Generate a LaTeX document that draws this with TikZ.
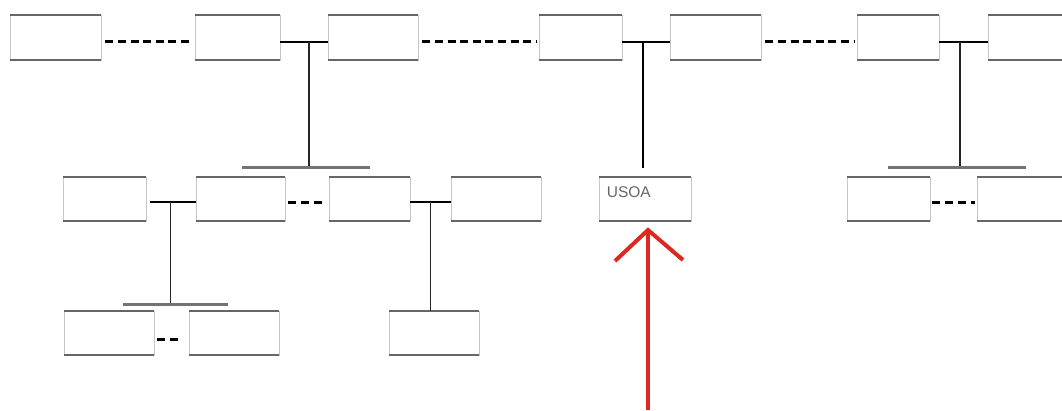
\documentclass[tikz,border=0pt]{standalone}
\usepackage{fontspec}
\setmainfont{Liberation Sans}
\usetikzlibrary{calc}
\begin{document}
\begin{tikzpicture}[x=1pt,y=-1pt,
  box/.style={draw=gray!45, line width=0.7pt, fill=white, inner sep=0pt, minimum height=45pt},
  edgeline/.style={draw=black!60, line width=2.2pt},
  link/.style={draw=black, line width=2pt},
  dotlink/.style={draw=black, line width=3pt, dash pattern=on 8pt off 4.6pt},
  dashlink/.style={draw=black, line width=3pt, dash pattern=on 8pt off 5pt},
  drop/.style={draw=black!85, line width=1.3pt},
  bar/.style={draw=black!55, line width=3pt},
  redline/.style={draw={rgb,255:red,220;green,40;blue,30}, line width=4pt, line join=miter}]
\useasboundingbox (0,0) rectangle (1062,410);
\clip (0,0) rectangle (1062,410);
% top row
\node[box, minimum width=91pt] (b1) at (55.5,37.5) {};
\node[box, minimum width=85pt] (b2) at (237.5,37.5) {};
\node[box, minimum width=90pt] (b3) at (373,37.5) {};
\node[box, minimum width=83pt] (b4) at (580.5,37.5) {};
\node[box, minimum width=91pt] (b5) at (715.5,37.5) {};
\node[box, minimum width=82pt] (b6) at (898,37.5) {};
\node[box, minimum width=90pt] (b7) at (1033,37.5) {};
% second row
\node[box, minimum width=83pt, minimum height=44pt] (c1) at (104.5,199) {};
\node[box, minimum width=89pt, minimum height=44pt] (c2) at (240.5,199) {};
\node[box, minimum width=81pt, minimum height=44pt] (c3) at (369.5,199) {};
\node[box, minimum width=90pt, minimum height=44pt] (c4) at (496,199) {};
\node[box, minimum width=92pt, minimum height=44pt,
  label={[anchor=north west, inner sep=0pt, xshift=8pt, yshift=-10pt, text=black!60,
          font=\fontsize{15.5}{15.5}\selectfont]north west:USOA}] (usoa) at (645,199) {};
\node[box, minimum width=83pt, minimum height=44pt] (c5) at (888.5,199) {};
\node[box, minimum width=90pt, minimum height=44pt] (c6) at (1022,199) {};
% third row
\node[box, minimum width=90pt, minimum height=44pt] (d1) at (109,333) {};
\node[box, minimum width=90pt, minimum height=44pt] (d2) at (234,333) {};
\node[box, minimum width=90pt, minimum height=44pt] (d3) at (434,333) {};
% thick top and bottom edges
\foreach \n in {b1,b2,b3,b4,b5,b6,b7,c1,c2,c3,c4,usoa,c5,c6,d1,d2,d3}{
  \draw[edgeline] (\n.north west) -- (\n.north east);
  \draw[edgeline] (\n.south west) -- (\n.south east);
}
% junction coordinates
\coordinate (j1) at (309,42);
\coordinate (j2) at (643,42);
\coordinate (j3) at (960,42);
\coordinate (j4) at (170,202);
\coordinate (j5) at (430,202);
\coordinate (bar1l) at (242,167);
\coordinate (bar1r) at (370,167);
\coordinate (bar1m) at (309,167);
\coordinate (bar2l) at (888,167);
\coordinate (bar2r) at (1026,167);
\coordinate (bar2m) at (960,167);
\coordinate (bar3l) at (123,304);
\coordinate (bar3r) at (228,304);
\coordinate (bar3m) at (170,304);
\coordinate (stop) at (643,168);
% top row connectors
\draw[dotlink, shorten <=4pt, shorten >=2pt] ([yshift=-4pt]b1.east) -- ([yshift=-4pt]b2.west);
\draw[link] ([yshift=-4.5pt]b2.east) -- ([yshift=-4.5pt]b3.west);
\draw[dotlink, shorten <=4pt, shorten >=2pt] ([yshift=-4pt]b3.east) -- ([yshift=-4pt]b4.west);
\draw[link] ([yshift=-4.5pt]b4.east) -- ([yshift=-4.5pt]b5.west);
\draw[dotlink, shorten <=4pt, shorten >=2pt] ([yshift=-4pt]b5.east) -- ([yshift=-4pt]b6.west);
\draw[link] ([yshift=-4.5pt]b6.east) -- ([yshift=-4.5pt]b7.west);
% drops from top row
\draw[drop] (j1) -- (bar1m);
\draw[bar] (bar1l) -- (bar1r);
\draw[link, line width=2.4pt] (j2) -- (stop);
\draw[drop, line width=1.6pt] (j3) -- (bar2m);
\draw[bar] (bar2l) -- (bar2r);
% second row connectors
\draw[link, shorten <=4pt] ([yshift=-3pt]c1.east) -- ([yshift=-3pt]c2.west);
\draw[dashlink, shorten <=3pt, shorten >=5pt] ([yshift=-3pt]c2.east) -- ([yshift=-3pt]c3.west);
\draw[link] ([yshift=-3pt]c3.east) -- ([yshift=-3pt]c4.west);
\draw[dashlink, shorten <=2pt, shorten >=2pt] ([yshift=-3pt]c5.east) -- ([yshift=-3pt]c6.west);
\draw[drop, line width=1pt] (j4) -- (bar3m);
\draw[bar] (bar3l) -- (bar3r);
\draw[drop, line width=1pt] (j5) -- (d3.north -| j5);
% third row connector
\draw[dashlink, shorten <=3pt, shorten >=9pt] ([yshift=-6pt]d1.east) -- ([yshift=-6pt]d2.west);
% red arrow
\coordinate (tip) at (648,230);
\coordinate (tail) at (648,410);
\draw[redline] (tail) -- (tip);
\draw[redline] ($(tip)+(-33,31)$) -- (tip) -- ($(tip)+(35,30)$);
\end{tikzpicture}
\end{document}
